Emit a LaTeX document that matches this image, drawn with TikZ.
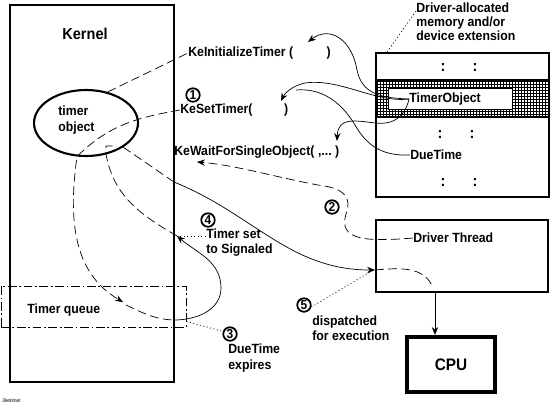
\documentclass[tikz,border=0pt]{standalone}
\usepackage{fontspec}
\setmainfont{Liberation Sans}[FakeStretch=0.92]
\usepackage{tikz}
\usetikzlibrary{arrows.meta,positioning,shapes.geometric,calc}

\begin{document}
\begin{tikzpicture}[x=0.02cm,y=-0.02cm,font=\fontsize{7.6}{8.6}\selectfont\bfseries,
   box/.style={draw,line width=1.1pt,inner sep=0pt},
   num/.style={draw,circle,line width=1pt,inner sep=0pt,minimum size=0.27cm,
               font=\fontsize{7.4}{8}\selectfont\bfseries},
   lbl/.style={align=left,inner sep=0pt,anchor=west},
   dsh/.style={thin,dash pattern=on 5pt off 2.5pt},
   lead/.style={thin,dash pattern=on 0.6pt off 1.4pt},
   arr/.style={-{Stealth[length=4.5pt,width=3.6pt]}}]
  \useasboundingbox (0,0) rectangle (552,407);

  % kernel side
  \node[box,minimum width=3.28cm,minimum height=7.54cm] (kern) at (92,193.5) {};
  \node[font=\fontsize{9}{10}\selectfont\bfseries] (kernlbl) at (85,34) {Kernel};
  \node[draw,ellipse,line width=1.2pt,minimum width=2.08cm,minimum height=1.32cm] (tmr) at (86,123) {};
  \node[lbl] (tmrlbl) at (58,120) {timer\\object};
  \node[draw,thin,dash pattern=on 5pt off 1.5pt on 1pt off 1.5pt,
        minimum width=3.7cm,minimum height=0.82cm] (tq) at (93.5,306.5) {};
  \node[lbl] (tqlbl) at (27,310) {Timer queue};

  % driver memory
  \node[box,minimum width=3.46cm,minimum height=2.88cm] (mem) at (462.5,125) {};
  \node[inner sep=0pt,minimum width=3.46cm,minimum height=0.74cm] (band) at (462.5,98.5) {};
  \draw[line width=0.5pt,step=0.06cm] (band.south west) grid (band.north east);
  \draw[line width=1.1pt] (band.north west) -- (band.north east) (band.south west) -- (band.south east);
  \node[draw,fill=white,thin,inner sep=0pt,minimum width=2.48cm,minimum height=0.42cm] (tobox) at (450,98.5) {};
  \node[lbl] (tobj) at (409,99) {TimerObject};
  \foreach \r/\y/\dx in {a/68/0,b/135/-3,c/183/0}
    {\node[font=\fontsize{9}{10}\selectfont\bfseries] (col\r1) at (443+\dx,\y) {:};
     \node[font=\fontsize{9}{10}\selectfont\bfseries] (col\r2) at (475+\dx,\y) {:};}
  \node[lbl] (due) at (410,155) {DueTime};
  \node[lbl,font=\fontsize{7.6}{8}\selectfont\bfseries] (alloc) at (416,22)
       {Driver-allocated\\memory and/or\\device extension};

  % thread and cpu
  \node[box,minimum width=3.44cm,minimum height=1.44cm] (drv) at (462,256) {};
  \node[lbl] (drvlbl) at (413,238) {Driver Thread};
  \node[draw,line width=2.3pt,minimum width=1.76cm,minimum height=1.1cm,
        font=\fontsize{9.5}{10}\selectfont\bfseries] (cpu) at (451,364.5) {CPU};

  % calls
  \node[lbl] (kinit) at (188,53) {KeInitializeTimer (\hspace{19pt})};
  \node[lbl] (kset) at (180,110) {KeSetTimer(\hspace{18pt})};
  \node[lbl] (kwait) at (174,152) {KeWaitForSingleObject(\hspace{2pt},...\hspace{2pt})};

  % steps
  \node[num] (c1) at (193,95) {1};
  \node[num] (c2) at (332,207) {2};
  \node[num] (c3) at (230,334) {3};
  \node[num] (c4) at (208,220) {4};
  \node[num] (c5) at (304,305) {5};
  \node[lbl] (sig) at (206,243) {Timer set\\to Signaled};
  \node[lbl] (exp) at (228,358) {DueTime\\expires};
  \node[lbl] (disp) at (312,328) {dispatched\\for execution};
  \node[lbl,font=\fontsize{3}{3.5}\selectfont] (fname) at (2,401) {3ketimer};

  \coordinate (tqin) at (123,302);
  \coordinate (tqout) at (126,305);
  \coordinate (kq) at (174,320);
  \coordinate (loop) at (221,288);
  \coordinate (sigin) at (177,236);
  \coordinate (kx) at (174,182);
  \coordinate (drvin) at ($(drv.west)+(0,14)$);
  \coordinate (drvout) at (433,288);
  \coordinate (dtop) at ($(drv.south)+(-27,0)$);
  \coordinate (wtip) at (197,162);
  \coordinate (itip) at (308,42);
  \coordinate (stip) at (281,101);
  \coordinate (wdown) at (337,141);

  % timer object in the kernel
  \draw[dsh] (tmr.55) -- (kinit.west);
  \draw[dsh,arr] (kset.west) to[out=190,in=45] (tmr.255) to[out=262,in=150] (tqin);
  \draw[dsh] (tqout) to[out=-25,in=178] (kq);
  \draw[arr] (kq) to[out=0,in=270] (loop) to[out=90,in=-40] (sigin);
  \draw[dsh] (sigin) to[out=150,in=-80] (106,154) -- (106,146) -- (115,146);
  \draw[dsh] (tmr.-33) -- (kx);
  \draw[arr] (kx) to[out=-22,in=180] (drvin);
  \draw[dsh] (drvin) to[out=5,in=110] (drvout);
  \draw[arr] (dtop) -- (dtop |- cpu.north);
  \draw[dsh,arr] (drvlbl.west) .. controls (365,242) and (338,240) .. (346,214)
        .. controls (352,198) and (345,188) .. (318,185)
        .. controls (275,177) and (235,165) .. (wtip);

  % parameters from driver memory
  \draw[arr] (tobj.west) .. controls (383,98) and (362,95) .. (357,70)
        .. controls (352,40) and (330,25) .. (itip);
  \draw[arr] (tobj.west) .. controls (375,103) and (340,78) .. (305,83)
        .. controls (292,86) and (285,93) .. (stip);
  \draw (due.west) .. controls (385,156) and (368,148) .. (355,125)
        .. controls (340,100) and (320,88) .. (296,90);
  \draw[arr] (tobj.west) .. controls (405,116) and (395,125) .. (375,123)
        .. controls (352,120) and (338,118) .. (wdown);

  % leaders
  \draw[lead] ($(mem.north west)+(12,0)$) -- ($(alloc.west)+(0,-11)$);
  \draw[lead] ($(tq.south east)+(0,-6)$) -- (c3.160);
  \draw[lead] ($(sig.west)+(0,-7)$) -- (sigin);
  \draw[lead] (c5.-15) -- ($(drvin)+(-5,2)$);
\end{tikzpicture}
\end{document}
